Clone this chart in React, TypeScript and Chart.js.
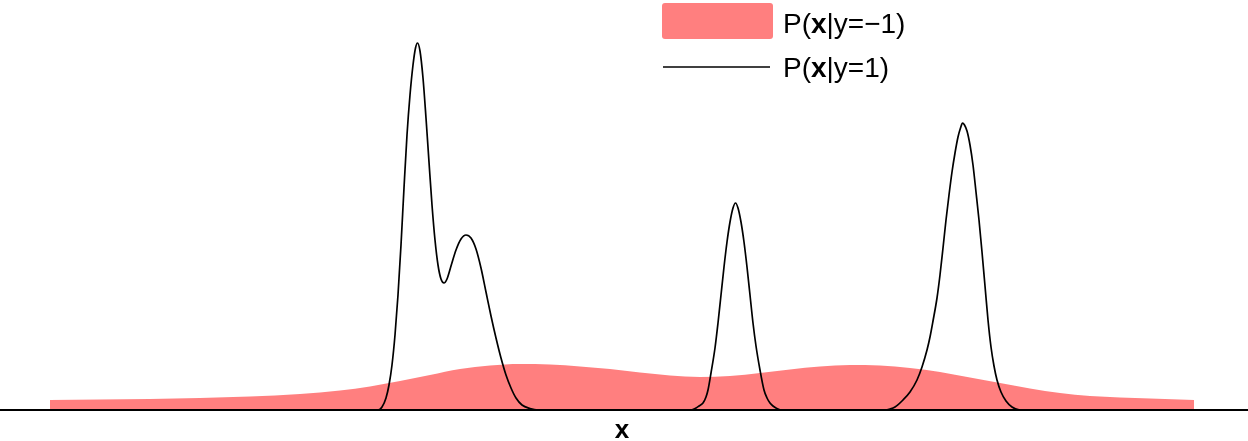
import { useEffect, useRef } from 'react';
import { Chart, registerables } from 'chart.js';

Chart.register(...registerables);

// P(x|y=1): black curve (x position, density)
const posX = [
  -6.24, -2.46, -2.42, -2.38, -2.35, -2.32, -2.29, -2.26, -2.23, -2.2, -2.17, -2.14, -2.11, -2.085,
  -2.065, -2.04, -2.01, -1.98, -1.95, -1.92, -1.89, -1.86, -1.83, -1.8, -1.77, -1.73, -1.68, -1.63,
  -1.58, -1.53, -1.48, -1.43, -1.38, -1.33, -1.28, -1.23, -1.18, -1.13, -1.08, -1.02, -0.94, -0.86,
  0.67, 0.72, 0.75, 0.79, 0.82, 0.84, 0.87, 0.91, 0.94, 0.97, 1.0, 1.03, 1.06, 1.09, 1.115, 1.14,
  1.17, 1.2, 1.23, 1.26, 1.29, 1.32, 1.36, 1.4, 1.43, 1.46, 1.49, 1.52, 1.57,
  2.61, 2.66, 2.71, 2.79, 2.86, 2.93, 2.98, 3.03, 3.06, 3.09, 3.13, 3.16, 3.19, 3.22, 3.25, 3.28,
  3.31, 3.34, 3.365, 3.385, 3.405, 3.43, 3.46, 3.49, 3.52, 3.55, 3.58, 3.61, 3.64, 3.67, 3.7, 3.73,
  3.77, 3.82, 3.88, 3.96, 6.24,
];
const posDensity = [
  0, 0, 0.003, 0.012, 0.025, 0.045, 0.075, 0.115, 0.165, 0.222, 0.275, 0.315, 0.345, 0.362,
  0.367, 0.359, 0.332, 0.292, 0.248, 0.205, 0.17, 0.145, 0.131, 0.127, 0.131, 0.144, 0.16, 0.171,
  0.175, 0.172, 0.161, 0.142, 0.118, 0.094, 0.072, 0.052, 0.035, 0.022, 0.012, 0.005, 0.0015, 0,
  0, 0.002, 0.004, 0.007, 0.013, 0.02, 0.037, 0.062, 0.087, 0.115, 0.143, 0.168, 0.188, 0.202, 0.207, 0.202,
  0.188, 0.168, 0.143, 0.115, 0.087, 0.064, 0.04, 0.02, 0.012, 0.007, 0.004, 0.002, 0,
  0, 0.001, 0.003, 0.01, 0.018, 0.03, 0.043, 0.06, 0.073, 0.089, 0.112, 0.135, 0.162, 0.19, 0.215, 0.238,
  0.257, 0.273, 0.282, 0.287, 0.285, 0.279, 0.265, 0.245, 0.218, 0.19, 0.158, 0.124, 0.09, 0.063, 0.044, 0.03,
  0.018, 0.009, 0.003, 0, 0,
];

// P(x|y=-1): filled pink area
const negX = [
  -5.74, -5.24, -4.74, -4.24, -3.74, -3.24, -2.84, -2.54, -2.24, -1.94, -1.64, -1.34, -1.04, -0.74,
  -0.44, -0.14, 0.16, 0.46, 0.76, 1.06, 1.36, 1.66, 1.96, 2.26, 2.56, 2.86, 3.16, 3.46, 3.76, 4.06,
  4.36, 4.66, 4.96, 5.26, 5.7,
];
const negDensity = [
  0.01, 0.0105, 0.011, 0.012, 0.0135, 0.016, 0.0195, 0.0235, 0.029, 0.035, 0.041, 0.0445, 0.046, 0.0455,
  0.0435, 0.041, 0.0375, 0.0345, 0.033, 0.034, 0.037, 0.0405, 0.0435, 0.045, 0.0445, 0.042, 0.038, 0.0325, 0.027, 0.0215,
  0.017, 0.014, 0.0125, 0.0115, 0.01,
];

const legendLabels = [
  ['P(', 'x', '|y=\u22121)'],
  ['P(', 'x', '|y=1)'],
];
const axisLabel = 'x';

const FONT = '"Liberation Sans", Arial, Helvetica, sans-serif';
const PINK = '#ff7f7f';

const decorPlugin = {
  id: 'decor',
  afterDatasetsDraw(chart: any) {
    const ctx = chart.ctx as CanvasRenderingContext2D;
    const y0 = chart.scales.y.getPixelForValue(0);
    ctx.save();
    // axis line spanning full width
    ctx.strokeStyle = '#000';
    ctx.lineWidth = 2;
    ctx.beginPath();
    ctx.moveTo(0, y0);
    ctx.lineTo(chart.width, y0);
    ctx.stroke();

    // axis label
    ctx.fillStyle = '#000';
    ctx.font = `bold 26px ${FONT}`;
    ctx.textAlign = 'center';
    ctx.textBaseline = 'alphabetic';
    ctx.fillText(axisLabel, 622, 438);

    // legend
    const drawMixed = (parts: string[], x: number, y: number) => {
      let cx = x;
      parts.forEach((p, i) => {
        ctx.font = `${i === 1 ? 'bold ' : ''}28px ${FONT}`;
        ctx.textAlign = 'left';
        ctx.fillText(p, cx, y);
        cx += ctx.measureText(p).width;
      });
    };
    ctx.fillStyle = PINK;
    ctx.beginPath();
    (ctx as any).roundRect ? (ctx as any).roundRect(662, 3, 111, 36, 3) : ctx.rect(662, 3, 111, 36);
    ctx.fill();
    ctx.fillStyle = '#000';
    drawMixed(legendLabels[0], 783, 33);

    ctx.strokeStyle = '#000';
    ctx.lineWidth = 1.6;
    ctx.beginPath();
    ctx.moveTo(663, 67);
    ctx.lineTo(770, 67);
    ctx.stroke();
    drawMixed(legendLabels[1], 783, 77);
    ctx.restore();
  },
};

export default function App() {
  const ref = useRef<HTMLCanvasElement>(null);
  useEffect(() => {
    if (!ref.current) return;
    const posData = posX.map((x, i) => ({ x, y: posDensity[i] }));
    const negData = negX.map((x, i) => ({ x, y: negDensity[i] }));
    const chart = new Chart(ref.current, {
      type: 'line',
      data: {
        datasets: [
          {
            label: 'P(x|y=1)',
            data: posData,
            borderColor: '#000',
            borderWidth: 1.7,
            pointRadius: 0,
            fill: false,
            cubicInterpolationMode: 'monotone',
            order: 1,
          },
          {
            label: 'P(x|y=-1)',
            data: negData,
            borderColor: PINK,
            backgroundColor: PINK,
            borderWidth: 0,
            pointRadius: 0,
            fill: 'origin',
            cubicInterpolationMode: 'monotone',
            order: 2,
          },
        ],
      },
      options: {
        animation: false,
        responsive: false,
        devicePixelRatio: 1,
        layout: { padding: { left: 0, right: 0, top: 0, bottom: 31 } },
        plugins: { legend: { display: false }, tooltip: { enabled: false } },
        scales: {
          x: { type: 'linear', min: -6.24, max: 6.24, display: false },
          y: { type: 'linear', min: 0, max: 0.41, display: false },
        },
      },
      plugins: [decorPlugin],
    } as any);
    return () => chart.destroy();
  }, []);
  return (
    <div style={{ position: 'absolute', left: 0, top: 0, width: 1248, height: 441, background: '#fff' }}>
      <canvas ref={ref} width={1248} height={441} style={{ display: 'block' }} />
    </div>
  );
}
